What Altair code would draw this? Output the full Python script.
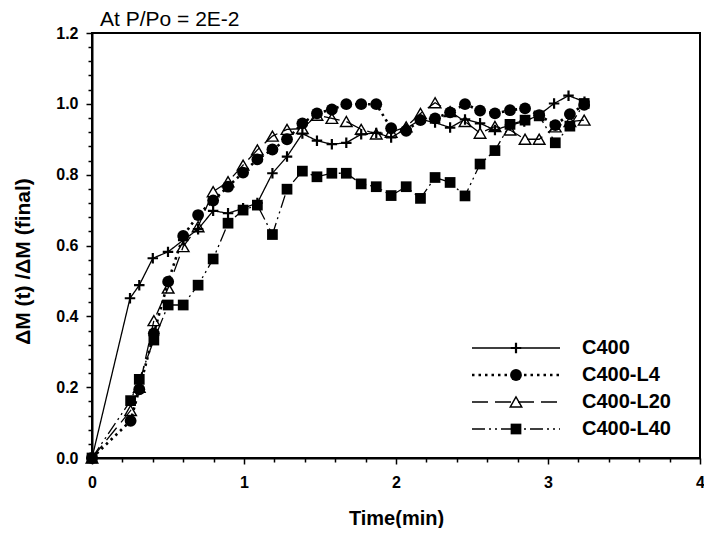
import altair as alt
import pandas as pd

# ---- data ----
series_names = ["C400", "C400-L4", "C400-L20", "C400-L40"]

time_c400 = [0, 0.25, 0.311, 0.40, 0.50, 0.60, 0.698, 0.797, 0.895, 0.994, 1.088,
             1.187, 1.283, 1.384, 1.48, 1.578, 1.673, 1.771, 1.87, 1.968, 2.067,
             2.161, 2.257, 2.356, 2.454, 2.553, 2.651, 2.75, 2.844, 2.94, 3.04,
             3.135, 3.24]
dm_c400 = [0, 0.451, 0.488, 0.564, 0.582, 0.615, 0.646, 0.698, 0.691, 0.705, 0.72,
           0.804, 0.851, 0.916, 0.896, 0.886, 0.890, 0.914, 0.918, 0.905, 0.93,
           0.956, 0.947, 0.933, 0.956, 0.945, 0.926, 0.94, 0.95, 0.968, 1.001,
           1.023, 1.006]

time_lx = [0, 0.254, 0.311, 0.407, 0.501, 0.6, 0.698, 0.797, 0.895, 0.994, 1.088,
           1.187, 1.283, 1.384, 1.48, 1.578, 1.673, 1.771, 1.87, 1.968, 2.067,
           2.161, 2.257, 2.356, 2.454, 2.553, 2.651, 2.75, 2.849, 2.942, 3.048,
           3.144, 3.238]
dm_l4 = [0, 0.105, 0.194, 0.352, 0.498, 0.627, 0.686, 0.727, 0.766, 0.806, 0.843,
         0.871, 0.900, 0.945, 0.973, 0.984, 0.999, 0.999, 0.999, 0.931, 0.924,
         0.954, 0.959, 0.976, 0.999, 0.981, 0.973, 0.982, 0.987, 0.968, 0.94,
         0.971, 0.997]
dm_l20 = [0, 0.134, 0.20, 0.388, 0.48, 0.597, 0.653, 0.752, 0.78, 0.827, 0.87,
          0.909, 0.928, 0.93, 0.968, 0.959, 0.95, 0.928, 0.915, 0.92, 0.935,
          0.973, 1.003, 0.978, 0.95, 0.917, 0.936, 0.926, 0.90, 0.90, 0.935,
          0.95, 0.954]
dm_l40 = [0, 0.162, 0.222, 0.333, 0.432, 0.432, 0.488, 0.562, 0.663, 0.70, 0.714,
          0.631, 0.759, 0.81, 0.794, 0.804, 0.804, 0.774, 0.766, 0.741, 0.766,
          0.733, 0.792, 0.778, 0.74, 0.83, 0.868, 0.942, 0.954, 0.966, 0.89,
          0.937, 1.001]

x_ticks = [round(i * 0.2, 6) for i in range(21)]
y_ticks = [round(i * 0.04, 6) for i in range(31)]

FONT = "Liberation Sans"
PLUS = "M-1,0L1,0M0,-1L0,1"

series_data = {
    "C400": (time_c400, dm_c400),
    "C400-L4": (time_lx, dm_l4),
    "C400-L20": (time_lx, dm_l20),
    "C400-L40": (time_lx, dm_l40),
}

styles = {
    "C400": dict(dash=[1, 0], lw=1.3, shape=PLUS, size=110, filled=False, sw=2.2),
    "C400-L4": dict(dash=[2.5, 4], lw=2.6, shape="circle", size=140, filled=True, sw=0),
    "C400-L20": dict(dash=[16, 7], lw=1.3, shape="triangle-up", size=135, filled=False, sw=1.4),
    "C400-L40": dict(dash=[13, 4, 2, 4, 2, 4], lw=1.3, shape="square", size=115, filled=True, sw=0),
}

x_enc = alt.X(
    "time:Q",
    scale=alt.Scale(domain=[0, 4], nice=False, zero=False),
    axis=alt.Axis(
        title="Time(min)",
        values=x_ticks,
        labelExpr="abs(datum.value - round(datum.value)) < 0.001 ? format(datum.value, 'd') : ''",
        tickSize={"condition": {"test": "abs(datum.value - round(datum.value)) < 0.001", "value": 6}, "value": 4},
        labelPadding=10,
        titlePadding=18,
        labelOverlap=False,
        labelFlush=False,
    ),
)
y_enc = alt.Y(
    "dm:Q",
    scale=alt.Scale(domain=[0, 1.2], nice=False, zero=False),
    axis=alt.Axis(
        title="ΔM (t) /ΔM (final)",
        values=y_ticks,
        labelExpr="abs(datum.value*5 - round(datum.value*5)) < 0.001 ? format(datum.value, '.1f') : ''",
        tickSize={"condition": {"test": "abs(datum.value*5 - round(datum.value*5)) < 0.001", "value": 6}, "value": 4},
        labelPadding=8,
        titlePadding=22,
        titleY=228,
        titleFontSize=21,
        labelOverlap=False,
        labelFlush=False,
    ),
)

layers = []
for name in series_names:
    t, v = series_data[name]
    st = styles[name]
    d = pd.DataFrame({"time": t, "dm": v, "series": name})
    base = alt.Chart(d)
    layers.append(
        base.mark_line(color="black", strokeWidth=st["lw"], strokeDash=st["dash"], strokeCap="butt")
        .encode(x=x_enc, y=y_enc)
    )
    if st["filled"]:
        pt = base.mark_point(shape=st["shape"], size=st["size"], filled=True, color="black", opacity=1)
    else:
        pt = base.mark_point(shape=st["shape"], size=st["size"], filled=False, color="black",
                             strokeWidth=st["sw"], opacity=1)
    layers.append(pt.encode(x=x_enc, y=y_enc))

# ---- legend (drawn manually: line + marker + label) ----
one = pd.DataFrame({"k": [0]})
legend_rows_y = [315, 342, 369, 396]
for name, ly in zip(series_names, legend_rows_y):
    st = styles[name]
    layers.append(
        alt.Chart(one).mark_rule(color="black", strokeWidth=st["lw"], strokeDash=st["dash"], strokeCap="butt")
        .encode(x=alt.value(380), x2=alt.value(468), y=alt.value(ly))
    )
    if st["filled"]:
        lp = alt.Chart(one).mark_point(shape=st["shape"], size=st["size"], filled=True, color="black", opacity=1)
    else:
        lp = alt.Chart(one).mark_point(shape=st["shape"], size=st["size"], filled=False, color="black",
                                       strokeWidth=st["sw"], opacity=1)
    layers.append(lp.encode(x=alt.value(424), y=alt.value(ly)))
    layers.append(
        alt.Chart(one).mark_text(text=name, align="left", baseline="middle", font=FONT,
                                 fontSize=20, fontWeight="bold", color="black")
        .encode(x=alt.value(490), y=alt.value(ly))
    )

# ---- title text above plot ----
layers.append(
    alt.Chart(one).mark_text(text="At P/Po = 2E-2", align="left", baseline="alphabetic",
                             font=FONT, fontSize=21, color="black")
    .encode(x=alt.value(8), y=alt.value(-7))
)

chart = (
    alt.layer(*layers)
    .properties(
        width=608,
        height=425,
        autosize=alt.AutoSizeParams(type="none"),
        padding={"left": 84, "top": 25, "right": 4, "bottom": 70},
        background="white",
    )
    .configure_view(stroke="black", strokeWidth=2)
    .configure_axis(
        grid=False,
        domainColor="black",
        domainWidth=2,
        tickColor="black",
        tickWidth=1.5,
        labelFont=FONT,
        labelFontSize=16,
        labelFontWeight="bold",
        labelColor="black",
        titleFont=FONT,
        titleFontSize=20,
        titleFontWeight="bold",
        titleColor="black",
    )
)

chart.save("out.html", embed_options={"renderer": "svg", "actions": False})
